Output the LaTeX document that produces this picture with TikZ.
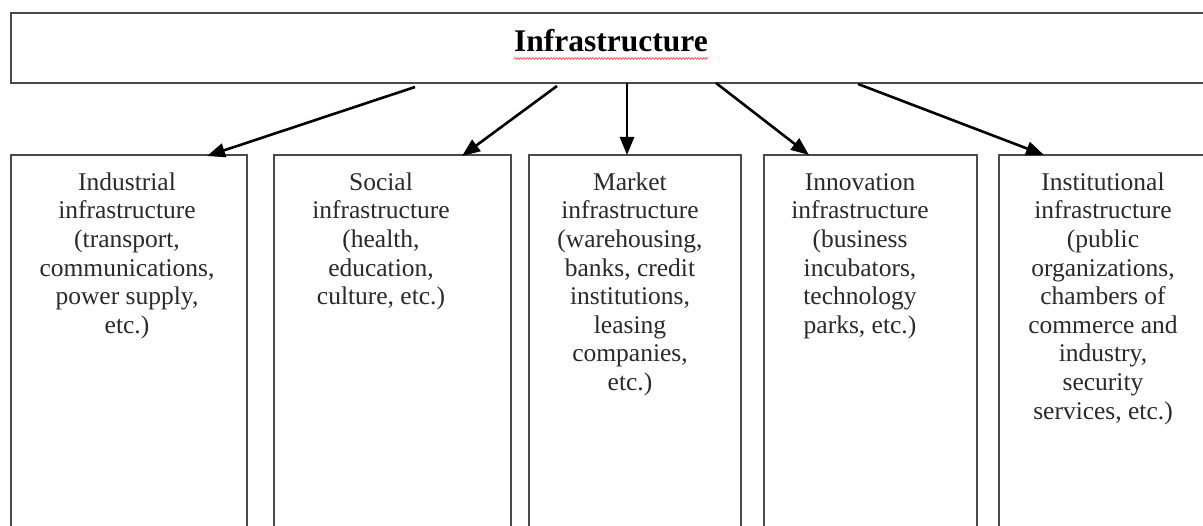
\documentclass[tikz,border=0pt]{standalone}
\usepackage{fontspec}
\setmainfont{Liberation Serif}
\usetikzlibrary{arrows.meta,decorations.pathmorphing}

\definecolor{boxline}{HTML}{4A4A4A}
\definecolor{bodytext}{HTML}{2A2A2A}

\tikzset{
  frame/.style={draw=boxline, line width=2pt, rectangle, inner sep=0pt},
  bodyfont/.style={font=\fontsize{25.5}{28.6}\selectfont, text=bodytext},
  boxtext/.style={bodyfont, align=center, anchor=north, inner sep=0pt},
  arr/.style={draw=black, line width=2.6pt,
    -{Triangle[length=18pt,width=14pt]}},
}

\begin{document}
\begin{tikzpicture}[x=1pt,y=-1pt]
  \useasboundingbox (0,0) rectangle (1203,526);
  \clip (0,0) rectangle (1203,526);
  \fill[white] (0,0) rectangle (1203,526);

  % heading box
  \node[frame, minimum width=1200.5pt, minimum height=70pt, anchor=north west]
    (top) at (9.5,12.5) {};
  \node[font=\fontsize{31.5}{36}\selectfont\bfseries, anchor=base, inner sep=0pt]
    (title) at (611,52) {Infrastructure};
  \draw[red!60, line width=0.9pt,
        decoration={snake, amplitude=0.8pt, segment length=3pt}, decorate]
    (title.base west) ++(0,6.5) coordinate (sq) -- (sq -| title.base east);

  % category boxes (running on below the lower edge)
  \node[frame, minimum width=236pt, minimum height=400pt, anchor=north west]
    (b1) at (9.5,154.5) {};
  \node[frame, minimum width=237pt, minimum height=400pt, anchor=north west]
    (b2) at (273,154.5) {};
  \node[frame, minimum width=212pt, minimum height=400pt, anchor=north west]
    (b3) at (528,154.5) {};
  \node[frame, minimum width=213pt, minimum height=400pt, anchor=north west]
    (b4) at (763,154.5) {};
  \node[frame, minimum width=210pt, minimum height=400pt, anchor=north west]
    (b5) at (998,154.5) {};

  % box texts
  \node[boxtext] (t1) at (127,170) {\strut Industrial\\infrastructure\\(transport,\\communications,\\power supply,\\etc.)};
  \node[boxtext] (t2) at (381,170) {\strut Social\\infrastructure\\(health,\\education,\\culture, etc.)};
  \node[boxtext] (t3) at (630,170) {\strut Market\\infrastructure\\(warehousing,\\banks, credit\\institutions,\\leasing\\companies,\\etc.)};
  \node[boxtext] (t4) at (860,170) {\strut Innovation\\infrastructure\\(business\\incubators,\\technology\\parks, etc.)};
  \node[boxtext] (t5) at (1103,170) {\strut Institutional\\infrastructure\\(public\\organizations,\\chambers of\\commerce and\\industry,\\security\\services, etc.)};

  % arrow end points
  \coordinate (s1) at (415,87);
  \coordinate (e1) at (207,156);
  \coordinate (s2) at (557,86);
  \coordinate (e2) at (462,156);
  \coordinate (s3) at (627,83);
  \coordinate (e3) at (627,155);
  \coordinate (s4) at (716,83);
  \coordinate (e4) at (809,155);
  \coordinate (s5) at (858,84);
  \coordinate (e5) at (1044,155);

  \draw[arr] (s1) -- (e1);
  \draw[arr] (s2) -- (e2);
  \draw[arr] (s3) -- (e3);
  \draw[arr] (s4) -- (e4);
  \draw[arr] (s5) -- (e5);
\end{tikzpicture}
\end{document}
